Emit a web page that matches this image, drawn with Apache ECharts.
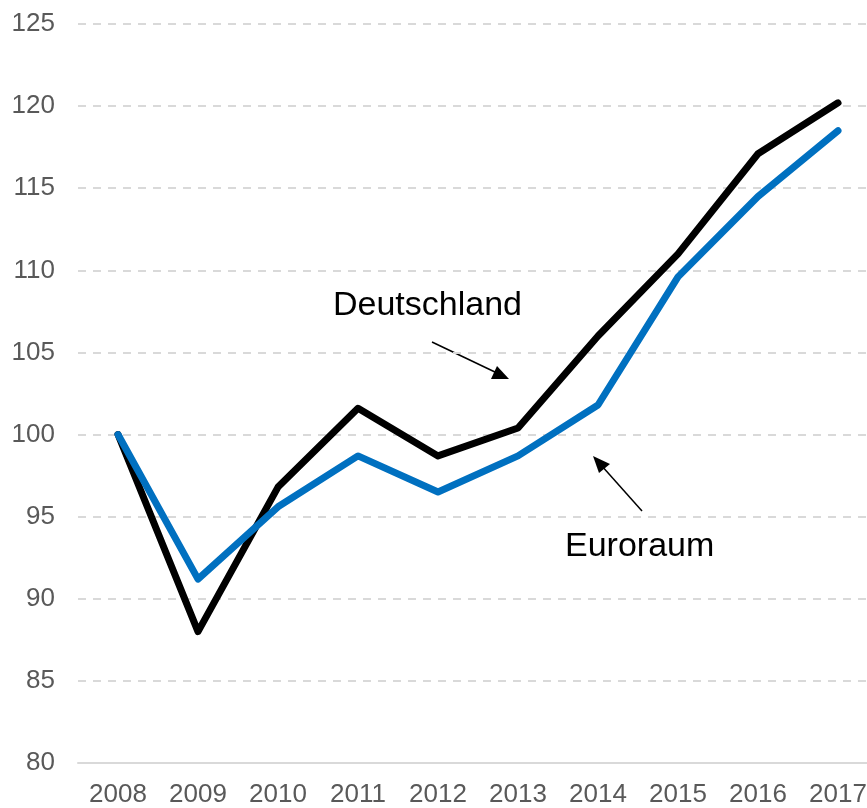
<!DOCTYPE html>
<html>
<head>
<meta charset="utf-8">
<script src="https://cdn.jsdelivr.net/npm/echarts@6/dist/echarts.min.js"></script>
<style>html,body{margin:0;padding:0;background:#fff}#c{width:867px;height:808px}</style>
</head>
<body>
<div id="c"></div>
<script>
var years = ['2008','2009','2010','2011','2012','2013','2014','2015','2016','2017'];
var deutschland = [100, 88.0, 96.8, 101.6, 98.7, 100.4, 106.0, 111.0, 117.1, 120.2];
var euroraum = [100, 91.2, 95.6, 98.7, 96.5, 98.7, 101.8, 109.6, 114.5, 118.5];
var yMin = 80, yMax = 125, yStep = 5;

var chart = echarts.init(document.getElementById('c'));
var font = 'Liberation Sans, Arial, sans-serif';
chart.setOption({
  animation: false,
  backgroundColor: '#fff',
  grid: { left: 78, width: 800, top: 24, bottom: 45, outerBoundsMode: 'none', containLabel: false },
  xAxis: {
    type: 'category', data: years, boundaryGap: true,
    axisLine: { lineStyle: { color: '#D9D9D9', width: 2 } },
    axisTick: { show: false },
    axisLabel: { color: '#595959', fontSize: 26, fontFamily: font, margin: 19 }
  },
  yAxis: {
    type: 'value', min: yMin, max: yMax, interval: yStep,
    axisLine: { show: false }, axisTick: { show: false },
    axisLabel: { color: '#595959', fontSize: 26, fontFamily: font, margin: 23 },
    splitLine: { lineStyle: { color: '#D9D9D9', width: 2, type: [8, 7] } }
  },
  series: [
    { name: 'Deutschland', type: 'line', data: deutschland, symbol: 'none',
      lineStyle: { color: '#000000', width: 7, cap: 'round', join: 'round' }, z: 3 },
    { name: 'Euroraum', type: 'line', data: euroraum, symbol: 'none',
      lineStyle: { color: '#0070C0', width: 7, cap: 'round', join: 'round' }, z: 4 }
  ],
  graphic: [
    { type: 'text', left: 333, top: 289, style: { text: 'Deutschland', fill: '#000', font: '34px ' + font } },
    { type: 'text', left: 565, top: 530, style: { text: 'Euroraum', fill: '#000', font: '34px ' + font } },
    { type: 'line', shape: { x1: 432, y1: 342, x2: 497, y2: 373 }, style: { stroke: '#000', lineWidth: 1.5 } },
    { type: 'polygon', shape: { points: [[509, 379], [491, 379], [497, 366]] }, style: { fill: '#000' } },
    { type: 'line', shape: { x1: 642, y1: 511, x2: 601, y2: 465 }, style: { stroke: '#000', lineWidth: 1.5 } },
    { type: 'polygon', shape: { points: [[593, 456], [610, 464], [599, 473]] }, style: { fill: '#000' } }
  ]
});
</script>
</body>
</html>
